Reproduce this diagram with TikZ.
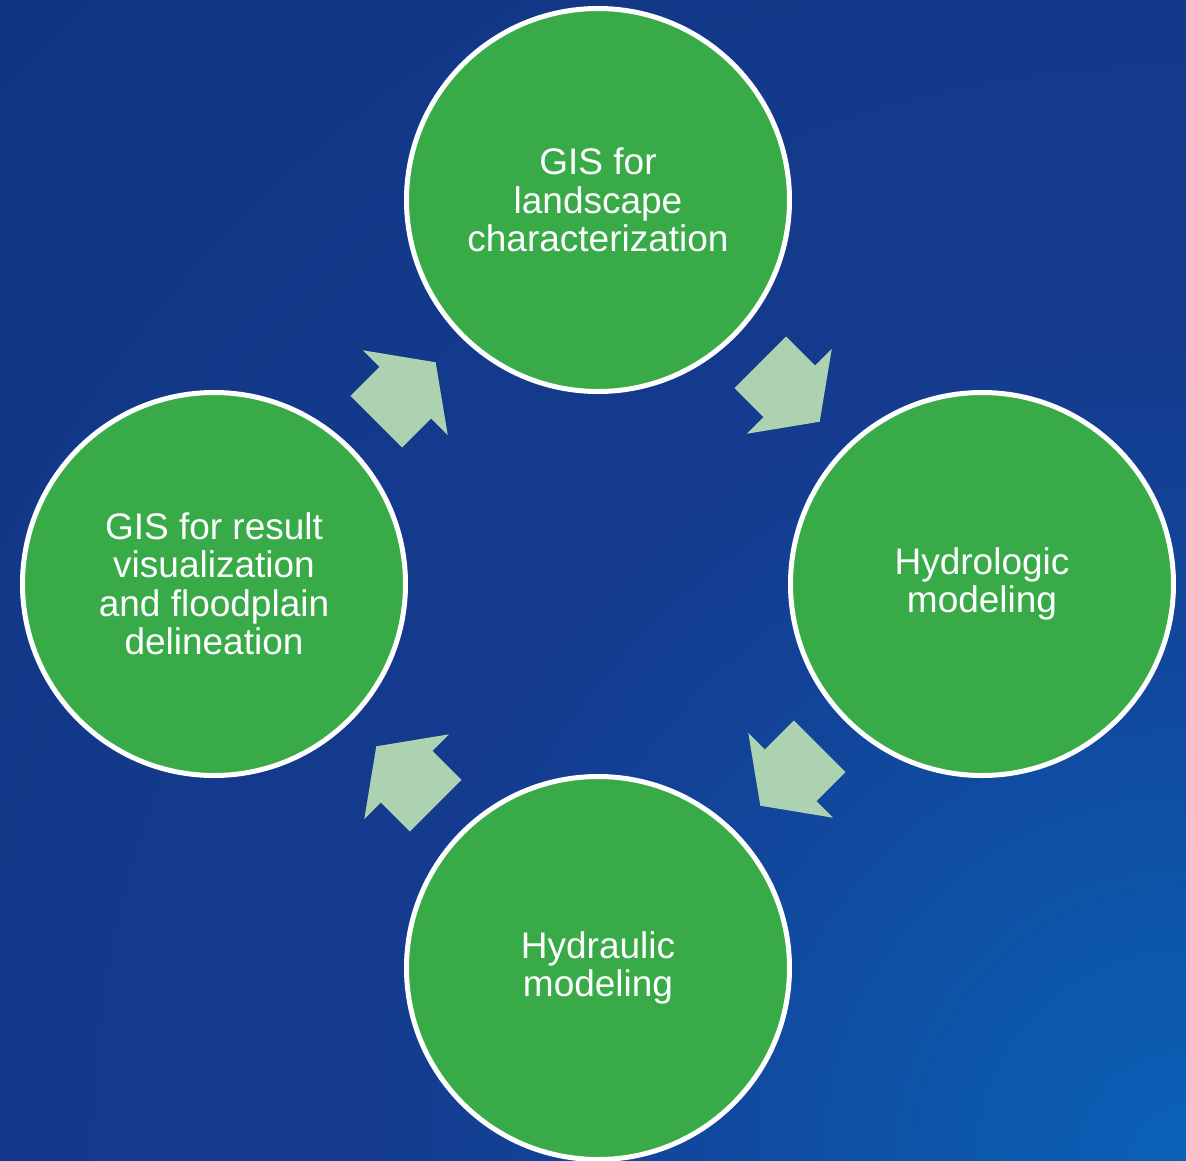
\documentclass[tikz,border=0pt]{standalone}
\usepackage{fontspec}
\setmainfont{Liberation Sans}
\usetikzlibrary{calc}

\definecolor{bgdeep}{HTML}{10347F}
\definecolor{bgmid}{HTML}{13398A}
\definecolor{bgcore}{HTML}{143B8E}
\definecolor{bgrise}{HTML}{11479D}
\definecolor{bglight}{HTML}{0D56A9}
\definecolor{bgbright}{HTML}{0A61B8}
\definecolor{stagegreen}{HTML}{38AB48}
\definecolor{arrowgreen}{HTML}{ADD2B1}

% soft glow from the lower right corner of the backdrop
\pgfdeclareradialshading{bgglow}{\pgfpoint{0bp}{0bp}}{%
  color(0bp)=(bgbright); color(3.6bp)=(bglight); color(7.5bp)=(bgrise);
  color(12bp)=(bgcore); color(17.5bp)=(bgmid); color(24.5bp)=(bgdeep);
  color(50bp)=(bgdeep)}

\tikzset{
  stage/.style={circle, minimum size=383pt, inner sep=0pt,
    fill=stagegreen, draw=white, line width=5pt,
    text=white, align=center,
    font=\fontsize{37}{38.5}\selectfont},
  cyclearrow/.pic={
    \fill[arrowgreen] (-42,-36.5) -- (-1,-36.5) -- (-1,-60) -- (42,0)
      -- (-1,60) -- (-1,36.5) -- (-42,36.5) -- cycle;
  }
}

\begin{document}
\begin{tikzpicture}[x=1pt, y=-1pt]
  \useasboundingbox (0,0) rectangle (1186,1160);

  % backdrop
  \fill[bgdeep] (0,0) rectangle (1186,1160);
  \begin{scope}
    \clip (0,0) rectangle (1186,1160);
    \shade[shading=bgglow] (1186,1160) circle (1700);
  \end{scope}

  % the four stages of the cycle
  \node[stage] (gis)   at (598,200) {GIS for\\landscape\\characterization};
  \node[stage] (hydro) at (982,584) {Hydrologic\\modeling};
  \node[stage] (hydra) at (598,968) {Hydraulic\\modeling};
  \node[stage] (viz)   at (214,584) {GIS for result\\visualization\\and floodplain\\delineation};

  % block arrows between consecutive stages
  \pic[rotate=-45]  at ($(gis)!0.5!(hydro)$)  {cyclearrow};
  \pic[rotate=-135] at ($(hydro)!0.5!(hydra)$) {cyclearrow};
  \pic[rotate=135]  at ($(hydra)!0.5!(viz)$)   {cyclearrow};
  \pic[rotate=45]   at ($(viz)!0.5!(gis)$)     {cyclearrow};
\end{tikzpicture}
\end{document}
